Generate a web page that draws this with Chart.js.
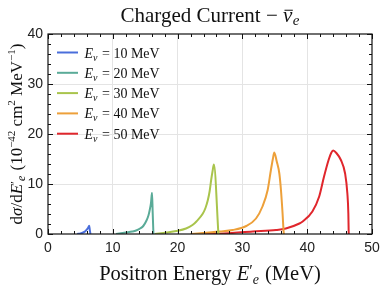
<!DOCTYPE html>
<html><head><meta charset="utf-8">
<script src="https://cdn.jsdelivr.net/npm/chart.js@4/dist/chart.umd.min.js"></script>
<style>html,body{margin:0;padding:0;background:#fff}#wrap{width:382px;height:290px;position:relative}</style>
</head><body><div id="wrap"><canvas id="c" width="382" height="290"></canvas></div>
<script>
// ---- data ----
const seriesLabels = ["10", "20", "30", "40", "50"];
const xTicks = [0, 10, 20, 30, 40, 50];
const yTicks = [0, 10, 20, 30, 40];

const e10x = [4.5, 5.0, 5.5, 5.8, 6.0, 6.2, 6.36, 6.45, 6.55];
const e10y = [0, 0.1, 0.35, 0.6, 0.9, 1.25, 1.67, 0.8, 0];

const e20x = [10.5, 12.0, 13.0, 13.6, 14.2, 14.7, 15.2, 15.5, 15.7, 15.9, 16.05, 16.15, 16.27];
const e20y = [0, 0.3, 0.5, 0.7, 1.1, 1.6, 2.7, 3.7, 4.8, 6.3, 8.27, 4.5, 0];

const e30x = [16.5, 18.3, 19.8, 21.3, 22.3, 22.9, 23.9, 24.3, 24.67, 24.95, 25.18, 25.4, 25.6, 26.3];
const e30y = [0, 0.3, 0.6, 1.1, 1.8, 2.5, 4.1, 5.2, 6.8, 8.6, 10.8, 12.6, 13.9, 0];

const e40x = [22, 26.5, 28.5, 30.6, 32.1, 33.1, 33.9, 34.4, 34.7, 34.92, 35.3, 35.7, 35.95, 36.2, 36.36, 36.4];
const e40y = [0, 0.5, 0.8, 1.6, 3.1, 5.5, 8.8, 12.8, 15.0, 16.3, 14.5, 12.1, 8.8, 4.1, 0.5, 0];

const e50x = [24, 26.5, 31.6, 35.2, 36.7, 38.8, 39.3, 40.8, 41.85, 42.6, 43.3, 43.7, 44.0, 44.5, 45.2, 45.85, 46.2, 46.35, 46.4, 46.42];
const e50y = [0, 0.05, 0.5, 0.8, 1.1, 2.1, 2.5, 4.5, 7.5, 11.5, 14.8, 16.2, 16.7, 16.2, 14.8, 12.1, 8.1, 4.1, 0.5, 0];

const colors = ["#4a6edb", "#5aab98", "#a9c44c", "#eda03a", "#e0262c"];
const xs = [e10x, e20x, e30x, e40x, e50x];
const ys = [e10y, e20y, e30y, e40y, e50y];

const SERIF = "'Liberation Serif', 'Times New Roman', serif";

function pts(x, y) { return x.map((v, i) => ({ x: v, y: y[i] })); }

function runsWidth(ctx, runs) {
  let w = 0;
  for (const r of runs) { ctx.font = (r.it ? "italic " : "") + r.s + "px " + SERIF; w += ctx.measureText(r.t).width + (r.gap || 0); }
  return w;
}
function drawRuns(ctx, runs, x, y, align) {
  let w = runsWidth(ctx, runs);
  let cx = align === "center" ? x - w / 2 : x;
  ctx.textBaseline = "alphabetic";
  ctx.textAlign = "left";
  for (const r of runs) {
    ctx.font = (r.it ? "italic " : "") + r.s + "px " + SERIF;
    const tw = ctx.measureText(r.t).width;
    ctx.fillText(r.t, cx, y + (r.dy || 0));
    if (r.ov) {
      ctx.save();
      ctx.lineWidth = 1;
      ctx.strokeStyle = ctx.fillStyle;
      const oy = y + (r.dy || 0) - r.s * 0.56;
      ctx.beginPath(); ctx.moveTo(cx + 1.5, oy); ctx.lineTo(cx + tw + 0.5, oy); ctx.stroke();
      ctx.restore();
    }
    cx += tw + (r.gap || 0);
  }
}

const decor = {
  id: "decor",
  afterDatasetsDraw(chart) {
    const ctx = chart.ctx, a = chart.chartArea;
    const xs_ = chart.scales.x, ys_ = chart.scales.y;
    ctx.save();
    ctx.strokeStyle = "#111";
    ctx.lineWidth = 1.2;
    ctx.strokeRect(a.left, a.top, a.right - a.left, a.bottom - a.top);
    ctx.lineWidth = 1;
    ctx.beginPath();
    for (let v = 0; v <= 50; v += 2) {
      const L = v % 10 === 0 ? 5 : 3;
      const px = Math.round(xs_.getPixelForValue(v)) + 0.5;
      ctx.moveTo(px, a.bottom); ctx.lineTo(px, a.bottom - L);
      ctx.moveTo(px, a.top); ctx.lineTo(px, a.top + L);
    }
    for (let v = 0; v <= 40; v += 2) {
      const L = v % 10 === 0 ? 5 : 3;
      const py = Math.round(ys_.getPixelForValue(v)) + 0.5;
      ctx.moveTo(a.left, py); ctx.lineTo(a.left + L, py);
      ctx.moveTo(a.right, py); ctx.lineTo(a.right - L, py);
    }
    ctx.stroke();
    ctx.restore();
  },
  afterDraw(chart) {
    const ctx = chart.ctx, a = chart.chartArea;
    ctx.save();
    ctx.fillStyle = "#111";
    drawRuns(ctx, [
      { t: "Charged Current \u2212 ", s: 21 },
      { t: "\u03BD", s: 21, it: true, ov: true, gap: 0.5 },
      { t: "e", s: 15, it: true, dy: 3 }
    ], (a.left + a.right) / 2, 22, "center");
    drawRuns(ctx, [
      { t: "Positron Energy ", s: 20.5 },
      { t: "E", s: 20.5, it: true },
      { t: "\u2032", s: 16, dy: -4 },
      { t: "e", s: 14, it: true, dy: 4, gap: 1 },
      { t: " (MeV)", s: 20.5 }
    ], (a.left + a.right) / 2, 280, "center");
    ctx.save();
    ctx.translate(22, (a.top + a.bottom) / 2);
    ctx.rotate(-Math.PI / 2);
    drawRuns(ctx, [
      { t: "d", s: 17 },
      { t: "\u03C3", s: 17, it: true },
      { t: "/d", s: 17 },
      { t: "E", s: 17, it: true },
      { t: "\u2032", s: 13, dy: -3 },
      { t: "e", s: 12, it: true, dy: 3, gap: 1 },
      { t: " (10", s: 17 },
      { t: "\u221242", s: 11, dy: -7 },
      { t: " cm", s: 17 },
      { t: "2", s: 11, dy: -7 },
      { t: " MeV", s: 17 },
      { t: "\u22121", s: 11, dy: -7 },
      { t: ")", s: 17 }
    ], 0, 0, "center");
    ctx.restore();
    for (let i = 0; i < seriesLabels.length; i++) {
      const y = 52.5 + i * 20.3;
      ctx.strokeStyle = colors[i];
      ctx.lineWidth = 2;
      ctx.beginPath(); ctx.moveTo(57, y); ctx.lineTo(78, y); ctx.stroke();
      ctx.fillStyle = "#111";
      drawRuns(ctx, [
        { t: "E", s: 14, it: true },
        { t: "\u03BD", s: 10, it: true, dy: 3, gap: 1 },
        { t: " = " + seriesLabels[i] + " MeV", s: 14 }
      ], 84.5, y + 5, "left");
    }
    ctx.restore();
  }
};

new Chart(document.getElementById("c"), {
  type: "scatter",
  data: {
    datasets: xs.map((x, i) => ({
      label: seriesLabels[i],
      data: pts(x, ys[i]),
      showLine: true,
      borderColor: colors[i],
      backgroundColor: colors[i],
      borderWidth: 2,
      pointRadius: 0,
      cubicInterpolationMode: "monotone",
      fill: false
    }))
  },
  options: {
    responsive: false,
    animation: false,
    devicePixelRatio: 1,
    layout: { padding: { left: 0, top: 34, right: 10, bottom: 0 } },
    plugins: { legend: { display: false }, title: { display: false }, tooltip: { enabled: false } },
    scales: {
      x: {
        type: "linear", min: 0, max: 50,
        afterBuildTicks: s => { s.ticks = xTicks.map(v => ({ value: v })); },
        afterFit: s => { s.height = 56; s.paddingLeft = 0; s.paddingRight = 0; },
        ticks: { font: { family: "'Liberation Sans', Arial, sans-serif", size: 14 }, color: "#222", padding: 6, maxRotation: 0 },
        grid: { color: c => (c.tick && (c.tick.value === 0 || c.tick.value === 50)) ? "rgba(0,0,0,0)" : "#e4e4e4", drawTicks: false, lineWidth: 1 },
        border: { display: false }
      },
      y: {
        type: "linear", min: 0, max: 40,
        afterBuildTicks: s => { s.ticks = yTicks.map(v => ({ value: v })); },
        afterFit: s => { s.width = 48; s.paddingTop = 0; s.paddingBottom = 0; },
        ticks: { font: { family: "'Liberation Sans', Arial, sans-serif", size: 14 }, color: "#222", padding: 5 },
        grid: { color: c => (c.tick && (c.tick.value === 0 || c.tick.value === 40)) ? "rgba(0,0,0,0)" : "#e4e4e4", drawTicks: false, lineWidth: 1 },
        border: { display: false }
      }
    }
  },
  plugins: [decor]
});
</script>
</body></html>
